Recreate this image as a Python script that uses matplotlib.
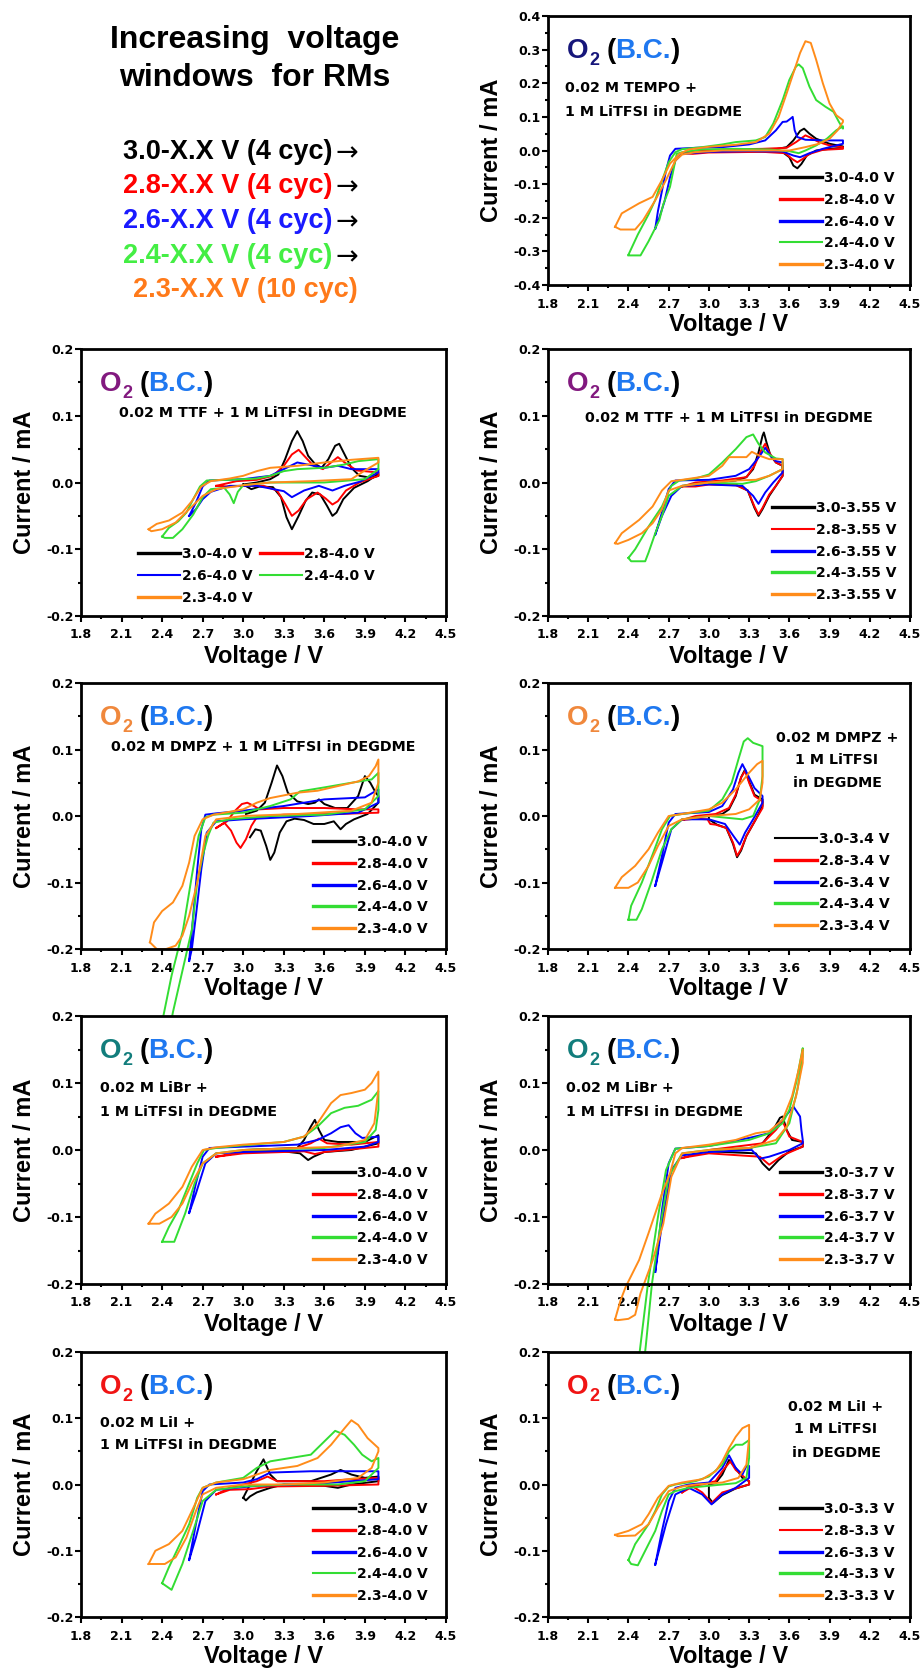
import matplotlib
matplotlib.use("Agg")
import matplotlib.pyplot as plt
from matplotlib.ticker import MultipleLocator, FormatStrFormatter

# ---------------------------------------------------------------------------
# Cyclic voltammograms, each loop given as (voltage / V, current / mA) vertices
# ---------------------------------------------------------------------------

# 0.02 M TEMPO, upper vertex 4.0 V
TEMPO_30 = [(3.00, 0.000), (3.30, 0.002), (3.50, 0.004), (3.58, 0.010), (3.63, 0.030), (3.68, 0.058), (3.71, 0.065),
            (3.75, 0.050), (3.80, 0.035), (3.90, 0.020), (4.00, 0.012), (4.00, 0.008), (3.90, 0.005), (3.80, 0.000),
            (3.73, -0.015), (3.69, -0.040), (3.66, -0.053), (3.63, -0.045), (3.60, -0.020), (3.55, -0.005),
            (3.40, -0.003), (3.00, -0.001), (3.00, 0.000)]
TEMPO_28 = [(2.80, -0.008), (2.90, 0.000), (3.10, 0.003), (3.40, 0.005), (3.58, 0.008), (3.65, 0.025), (3.72, 0.045),
            (3.76, 0.038), (3.82, 0.025), (3.90, 0.015), (4.00, 0.010), (4.00, 0.005), (3.85, 0.002), (3.75, -0.010),
            (3.70, -0.025), (3.66, -0.035), (3.62, -0.025), (3.57, -0.008), (3.40, -0.004), (3.00, -0.006),
            (2.88, -0.010), (2.80, -0.008)]
TEMPO_26 = [(2.60, -0.232), (2.62, -0.180), (2.65, -0.120), (2.68, -0.060), (2.71, -0.015), (2.75, 0.005),
            (2.90, 0.008), (3.10, 0.010), (3.30, 0.018), (3.42, 0.030), (3.50, 0.060), (3.55, 0.085), (3.58, 0.086),
            (3.61, 0.095), (3.625, 0.100), (3.64, 0.060), (3.66, 0.040), (3.72, 0.032), (3.85, 0.030), (4.00, 0.030),
            (4.00, 0.020), (3.85, 0.005), (3.75, -0.008), (3.68, -0.020), (3.63, -0.015), (3.55, -0.003),
            (3.30, -0.002), (3.00, -0.004), (2.80, -0.010), (2.75, -0.030), (2.71, -0.080), (2.67, -0.150),
            (2.63, -0.200), (2.60, -0.232)]
TEMPO_24 = [(2.40, -0.310), (2.47, -0.250), (2.55, -0.190), (2.60, -0.147), (2.65, -0.090), (2.70, -0.035),
            (2.75, -0.005), (2.80, 0.004), (2.95, 0.010), (3.10, 0.018), (3.20, 0.025), (3.35, 0.030), (3.42, 0.040),
            (3.48, 0.080), (3.55, 0.150), (3.60, 0.210), (3.65, 0.250), (3.67, 0.256), (3.70, 0.245), (3.75, 0.190),
            (3.80, 0.150), (3.87, 0.130), (3.93, 0.115), (3.97, 0.085), (4.00, 0.065), (4.00, 0.072), (3.95, 0.060),
            (3.88, 0.035), (3.80, 0.015), (3.72, 0.000), (3.67, -0.008), (3.60, -0.002), (3.45, 0.003),
            (3.20, 0.005), (2.95, 0.003), (2.80, -0.005), (2.76, -0.010), (2.71, -0.108), (2.66, -0.160),
            (2.63, -0.207), (2.55, -0.270), (2.49, -0.312), (2.40, -0.312)]
TEMPO_23 = [(2.30, -0.227), (2.35, -0.187), (2.48, -0.157), (2.58, -0.138), (2.65, -0.088), (2.71, -0.039),
            (2.78, -0.010), (2.85, 0.003), (3.00, 0.011), (3.20, 0.017), (3.35, 0.025), (3.45, 0.050), (3.52, 0.100),
            (3.58, 0.170), (3.63, 0.230), (3.68, 0.290), (3.72, 0.325), (3.76, 0.320), (3.80, 0.270), (3.85, 0.200),
            (3.90, 0.140), (3.95, 0.105), (4.00, 0.090), (4.00, 0.085), (3.96, 0.060), (3.90, 0.035), (3.82, 0.020),
            (3.72, 0.010), (3.60, 0.000), (3.40, 0.000), (3.10, 0.000), (2.90, -0.005), (2.80, -0.012),
            (2.75, -0.030), (2.68, -0.088), (2.60, -0.148), (2.51, -0.207), (2.45, -0.235), (2.34, -0.235),
            (2.30, -0.227)]

# 0.02 M TTF, upper vertex 4.0 V
TTF40_30 = [(3.00, -0.003), (3.10, 0.000), (3.20, 0.005), (3.26, 0.012), (3.31, 0.035), (3.36, 0.062), (3.40, 0.077),
            (3.44, 0.062), (3.48, 0.040), (3.53, 0.028), (3.58, 0.022), (3.63, 0.035), (3.68, 0.055), (3.71, 0.058),
            (3.75, 0.042), (3.80, 0.022), (3.86, 0.010), (3.95, 0.007), (4.00, 0.010), (4.00, 0.013), (3.92, 0.002),
            (3.82, -0.008), (3.74, -0.025), (3.69, -0.045), (3.66, -0.050), (3.62, -0.035), (3.57, -0.018),
            (3.51, -0.015), (3.46, -0.028), (3.41, -0.050), (3.36, -0.070), (3.32, -0.052), (3.28, -0.022),
            (3.22, -0.007), (3.12, -0.006), (3.06, -0.010), (3.00, -0.003)]
TTF40_28 = [(2.80, -0.005), (2.95, 0.002), (3.10, 0.004), (3.22, 0.010), (3.30, 0.025), (3.36, 0.042), (3.41, 0.049),
            (3.46, 0.038), (3.52, 0.025), (3.59, 0.020), (3.65, 0.030), (3.70, 0.038), (3.75, 0.030), (3.84, 0.018),
            (4.00, 0.015), (4.00, 0.010), (3.86, 0.000), (3.76, -0.012), (3.70, -0.028), (3.66, -0.033),
            (3.61, -0.024), (3.55, -0.015), (3.47, -0.025), (3.41, -0.042), (3.36, -0.050), (3.31, -0.032),
            (3.25, -0.012), (3.15, -0.005), (3.00, -0.005), (2.90, -0.006), (2.80, -0.005)]
TTF40_26 = [(2.60, -0.050), (2.65, -0.030), (2.70, -0.006), (2.75, 0.003), (3.00, 0.005), (3.20, 0.010), (3.30, 0.020),
            (3.40, 0.030), (3.50, 0.026), (3.60, 0.022), (3.70, 0.025), (3.80, 0.020), (4.00, 0.020), (4.00, 0.015),
            (3.86, 0.001), (3.75, -0.005), (3.66, -0.012), (3.56, -0.005), (3.45, -0.012), (3.36, -0.022),
            (3.30, -0.013), (3.10, -0.005), (2.90, -0.005), (2.76, -0.014), (2.70, -0.025), (2.65, -0.040),
            (2.60, -0.050)]
TTF40_24 = [(2.40, -0.081), (2.45, -0.068), (2.52, -0.058), (2.58, -0.045), (2.63, -0.025), (2.68, -0.006),
            (2.73, 0.003), (2.90, 0.004), (3.10, 0.006), (3.20, 0.010), (3.30, 0.017), (3.40, 0.020), (3.60, 0.022),
            (3.75, 0.027), (3.85, 0.032), (4.00, 0.035), (4.00, 0.020), (3.90, 0.005), (3.60, 0.000), (3.20, 0.000),
            (3.00, -0.004), (2.96, -0.014), (2.93, -0.031), (2.90, -0.018), (2.86, -0.008), (2.76, -0.010),
            (2.70, -0.022), (2.63, -0.048), (2.55, -0.070), (2.48, -0.083), (2.42, -0.083), (2.40, -0.081)]
TTF40_23 = [(2.30, -0.070), (2.36, -0.062), (2.45, -0.057), (2.55, -0.045), (2.62, -0.028), (2.69, -0.006),
            (2.76, 0.002), (2.90, 0.006), (3.00, 0.010), (3.10, 0.017), (3.20, 0.022), (3.40, 0.025), (3.60, 0.030),
            (3.80, 0.034), (4.00, 0.037), (4.00, 0.030), (3.90, 0.018), (3.80, 0.005), (3.50, 0.002), (3.20, 0.000),
            (3.00, -0.004), (2.80, -0.010), (2.70, -0.020), (2.60, -0.040), (2.50, -0.060), (2.40, -0.070),
            (2.32, -0.073), (2.30, -0.070)]

# 0.02 M TTF, upper vertex 3.55 V
TTF355_30 = [(3.00, 0.000), (3.20, 0.003), (3.28, 0.008), (3.33, 0.020), (3.37, 0.045), (3.40, 0.070), (3.41, 0.075),
             (3.43, 0.060), (3.46, 0.040), (3.50, 0.030), (3.55, 0.025), (3.55, 0.010), (3.50, -0.005),
             (3.45, -0.020), (3.40, -0.040), (3.37, -0.050), (3.34, -0.038), (3.29, -0.012), (3.20, -0.003),
             (3.00, -0.002), (3.00, 0.000)]
TTF355_28 = [(2.80, -0.006), (2.90, 0.000), (3.10, 0.003), (3.28, 0.008), (3.34, 0.025), (3.39, 0.048), (3.42, 0.058),
             (3.45, 0.045), (3.50, 0.030), (3.55, 0.025), (3.55, 0.010), (3.50, -0.005), (3.45, -0.018),
             (3.40, -0.038), (3.37, -0.048), (3.34, -0.036), (3.29, -0.012), (3.20, -0.004), (3.00, -0.003),
             (2.90, -0.006), (2.80, -0.006)]
TTF355_26 = [(2.60, -0.078), (2.65, -0.045), (2.70, -0.010), (2.75, 0.003), (3.00, 0.004), (3.20, 0.010), (3.30, 0.020),
             (3.38, 0.040), (3.42, 0.052), (3.46, 0.040), (3.50, 0.032), (3.55, 0.030), (3.55, 0.015), (3.48, 0.000),
             (3.42, -0.015), (3.37, -0.032), (3.33, -0.020), (3.25, -0.005), (3.00, -0.003), (2.80, -0.005),
             (2.72, -0.020), (2.65, -0.050), (2.60, -0.078)]
TTF355_24 = [(2.40, -0.113), (2.45, -0.100), (2.55, -0.066), (2.65, -0.036), (2.72, -0.005), (2.78, 0.003),
             (2.90, 0.006), (3.00, 0.012), (3.10, 0.030), (3.20, 0.050), (3.28, 0.068), (3.33, 0.072), (3.37, 0.058),
             (3.42, 0.045), (3.50, 0.036), (3.55, 0.035), (3.55, 0.020), (3.45, 0.010), (3.35, 0.002),
             (3.25, -0.002), (3.00, 0.000), (2.80, -0.005), (2.70, -0.020), (2.65, -0.050), (2.60, -0.076),
             (2.55, -0.105), (2.525, -0.118), (2.42, -0.118), (2.40, -0.113)]
TTF355_23 = [(2.30, -0.091), (2.35, -0.076), (2.48, -0.056), (2.58, -0.036), (2.65, -0.012), (2.72, 0.002),
             (2.80, 0.004), (3.00, 0.010), (3.10, 0.025), (3.15, 0.038), (3.28, 0.038), (3.32, 0.046), (3.38, 0.040),
             (3.45, 0.035), (3.55, 0.035), (3.55, 0.020), (3.45, 0.010), (3.35, 0.004), (3.20, 0.003), (3.00, 0.000),
             (2.80, -0.005), (2.70, -0.012), (2.65, -0.040), (2.58, -0.061), (2.50, -0.076), (2.40, -0.086),
             (2.32, -0.092), (2.30, -0.091)]

# 0.02 M DMPZ, upper vertex 4.0 V
DMPZ40_30 = [(3.02, 0.003), (3.10, 0.008), (3.16, 0.020), (3.21, 0.050), (3.25, 0.076), (3.29, 0.060), (3.33, 0.035),
             (3.40, 0.022), (3.48, 0.018), (3.53, 0.020), (3.56, 0.025), (3.60, 0.018), (3.68, 0.012), (3.77, 0.012),
             (3.85, 0.030), (3.90, 0.060), (3.94, 0.050), (3.98, 0.035), (4.00, 0.030), (4.00, 0.020), (3.92, 0.003),
             (3.82, -0.005), (3.76, -0.012), (3.72, -0.020), (3.67, -0.008), (3.60, -0.012), (3.52, -0.012),
             (3.45, -0.006), (3.38, -0.004), (3.32, -0.008), (3.27, -0.025), (3.23, -0.055), (3.20, -0.066),
             (3.17, -0.045), (3.13, -0.022), (3.09, -0.020), (3.05, -0.032)]
DMPZ40_28 = [(2.80, -0.018), (2.88, -0.008), (2.94, 0.008), (2.99, 0.018), (3.03, 0.020), (3.08, 0.015), (3.12, 0.010),
             (3.30, 0.012), (3.60, 0.012), (3.85, 0.010), (4.00, 0.010), (4.00, 0.005), (3.70, 0.003), (3.30, 0.002),
             (3.10, -0.002), (3.06, -0.015), (3.02, -0.035), (2.98, -0.048), (2.95, -0.040), (2.91, -0.022),
             (2.86, -0.010), (2.80, -0.018)]
DMPZ40_26 = [(2.60, -0.218), (2.63, -0.150), (2.66, -0.080), (2.69, -0.020), (2.72, 0.002), (2.80, 0.004), (3.00, 0.008),
             (3.30, 0.015), (3.60, 0.025), (3.90, 0.028), (4.00, 0.040), (4.00, 0.020), (3.85, 0.005), (3.50, 0.000),
             (3.00, -0.005), (2.80, -0.008), (2.73, -0.025), (2.69, -0.080), (2.65, -0.150), (2.62, -0.200),
             (2.60, -0.218)]
DMPZ40_24 = [(2.40, -0.310), (2.47, -0.240), (2.555, -0.171), (2.62, -0.090), (2.67, -0.030), (2.72, -0.002),
             (2.78, 0.002), (3.00, 0.005), (3.20, 0.015), (3.35, 0.025), (3.42, 0.037), (3.60, 0.043), (3.80, 0.050),
             (3.95, 0.055), (4.00, 0.065), (4.00, 0.030), (3.90, 0.010), (3.60, 0.002), (3.20, 0.000), (2.90, -0.005),
             (2.78, -0.010), (2.74, -0.030), (2.70, -0.060), (2.66, -0.100), (2.62, -0.171), (2.55, -0.233),
             (2.48, -0.295), (2.41, -0.370), (2.40, -0.370), (2.40, -0.310)]
DMPZ40_23 = [(2.31, -0.190), (2.34, -0.160), (2.40, -0.143), (2.48, -0.130), (2.55, -0.105), (2.60, -0.070),
             (2.64, -0.030), (2.70, -0.005), (2.78, 0.002), (3.00, 0.010), (3.10, 0.020), (3.20, 0.027), (3.40, 0.035),
             (3.55, 0.038), (3.70, 0.045), (3.85, 0.052), (3.93, 0.060), (3.98, 0.075), (4.00, 0.085), (4.00, 0.050),
             (3.95, 0.020), (3.80, 0.008), (3.40, 0.003), (3.00, 0.000), (2.80, -0.005), (2.72, -0.030),
             (2.66, -0.100), (2.60, -0.150), (2.55, -0.180), (2.50, -0.195), (2.43, -0.200), (2.36, -0.200),
             (2.31, -0.190)]

# 0.02 M DMPZ, upper vertex 3.4 V
DMPZ34_30 = [(3.00, 0.000), (3.10, 0.003), (3.15, 0.010), (3.20, 0.030), (3.24, 0.058), (3.27, 0.070), (3.30, 0.052),
             (3.34, 0.032), (3.40, 0.025), (3.40, 0.015), (3.35, -0.005), (3.28, -0.030), (3.24, -0.052),
             (3.21, -0.062), (3.18, -0.042), (3.13, -0.018), (3.06, -0.013), (3.00, -0.005), (3.00, 0.000)]
DMPZ34_28 = [(2.80, -0.006), (2.90, 0.000), (3.05, 0.003), (3.15, 0.012), (3.20, 0.032), (3.24, 0.058), (3.27, 0.068),
             (3.30, 0.050), (3.34, 0.030), (3.40, 0.022), (3.40, 0.012), (3.35, -0.005), (3.28, -0.030),
             (3.24, -0.050), (3.21, -0.060), (3.18, -0.040), (3.13, -0.018), (3.05, -0.013), (3.01, -0.012),
             (2.99, -0.005), (2.90, -0.004), (2.80, -0.006)]
DMPZ34_26 = [(2.60, -0.105), (2.65, -0.060), (2.70, -0.010), (2.75, 0.003), (3.00, 0.006), (3.10, 0.015), (3.18, 0.040),
             (3.22, 0.065), (3.25, 0.078), (3.29, 0.062), (3.34, 0.042), (3.40, 0.030), (3.40, 0.020), (3.33, -0.005),
             (3.27, -0.025), (3.23, -0.043), (3.19, -0.032), (3.12, -0.012), (3.00, -0.005), (2.80, -0.005),
             (2.72, -0.020), (2.65, -0.070), (2.60, -0.105)]
DMPZ34_24 = [(2.40, -0.156), (2.42, -0.135), (2.50, -0.100), (2.58, -0.058), (2.65, -0.020), (2.71, 0.000),
             (2.80, 0.003), (3.00, 0.008), (3.10, 0.025), (3.17, 0.050), (3.22, 0.085), (3.26, 0.112), (3.29, 0.117),
             (3.33, 0.110), (3.40, 0.105), (3.40, 0.060), (3.38, 0.025), (3.33, 0.000), (3.25, -0.005),
             (3.10, -0.002), (3.00, 0.000), (2.80, -0.005), (2.72, -0.020), (2.65, -0.050), (2.57, -0.100),
             (2.50, -0.140), (2.46, -0.156), (2.40, -0.156)]
DMPZ34_23 = [(2.30, -0.108), (2.35, -0.092), (2.45, -0.075), (2.55, -0.050), (2.62, -0.025), (2.70, 0.000),
             (2.80, 0.003), (3.00, 0.010), (3.10, 0.020), (3.20, 0.040), (3.30, 0.065), (3.36, 0.078), (3.40, 0.083),
             (3.40, 0.050), (3.38, 0.025), (3.30, 0.010), (3.20, 0.003), (3.00, 0.000), (2.80, -0.005),
             (2.70, -0.015), (2.62, -0.045), (2.55, -0.075), (2.47, -0.100), (2.40, -0.108), (2.32, -0.108),
             (2.30, -0.108)]

# 0.02 M LiBr, upper vertex 4.0 V
LIBR40_30 = [(3.00, 0.000), (3.40, 0.003), (3.45, 0.015), (3.50, 0.035), (3.53, 0.045), (3.56, 0.030), (3.60, 0.015),
             (3.70, 0.012), (3.90, 0.012), (4.00, 0.022), (4.00, 0.010), (3.80, 0.000), (3.60, -0.003),
             (3.52, -0.010), (3.48, -0.015), (3.42, -0.005), (3.30, -0.002), (3.00, 0.000)]
LIBR40_28 = [(2.80, -0.010), (3.00, -0.003), (3.40, 0.003), (3.50, 0.010), (3.56, 0.017), (3.62, 0.010), (3.80, 0.008),
             (4.00, 0.012), (4.00, 0.005), (3.60, -0.003), (3.53, -0.006), (3.45, -0.002), (3.00, -0.005),
             (2.80, -0.010)]
LIBR40_26 = [(2.60, -0.094), (2.65, -0.050), (2.70, -0.010), (2.75, 0.003), (3.00, 0.005), (3.40, 0.008), (3.55, 0.015),
             (3.65, 0.025), (3.72, 0.034), (3.78, 0.037), (3.83, 0.025), (3.88, 0.018), (4.00, 0.020), (4.00, 0.012),
             (3.90, 0.005), (3.60, 0.000), (3.00, -0.003), (2.80, -0.005), (2.72, -0.020), (2.65, -0.065),
             (2.60, -0.094)]
LIBR40_24 = [(2.40, -0.137), (2.45, -0.115), (2.52, -0.090), (2.60, -0.050), (2.66, -0.020), (2.71, 0.000),
             (2.80, 0.003), (3.00, 0.007), (3.30, 0.012), (3.45, 0.020), (3.55, 0.035), (3.65, 0.055), (3.75, 0.063),
             (3.85, 0.066), (3.95, 0.075), (4.00, 0.088), (4.00, 0.060), (3.98, 0.030), (3.90, 0.012), (3.60, 0.003),
             (3.00, 0.000), (2.80, -0.005), (2.70, -0.020), (2.64, -0.050), (2.57, -0.095), (2.49, -0.137),
             (2.40, -0.137)]
LIBR40_23 = [(2.30, -0.110), (2.35, -0.095), (2.45, -0.080), (2.55, -0.055), (2.62, -0.025), (2.70, 0.000),
             (2.80, 0.004), (3.00, 0.008), (3.30, 0.012), (3.45, 0.020), (3.55, 0.040), (3.65, 0.070), (3.72, 0.082),
             (3.80, 0.085), (3.90, 0.090), (3.95, 0.100), (4.00, 0.117), (4.00, 0.090), (3.97, 0.040), (3.90, 0.015),
             (3.70, 0.005), (3.00, 0.000), (2.80, -0.005), (2.70, -0.020), (2.62, -0.050), (2.55, -0.080),
             (2.47, -0.100), (2.38, -0.110), (2.30, -0.110)]

# 0.02 M LiBr, upper vertex 3.7 V
LIBR37_30 = [(3.00, 0.000), (3.30, 0.002), (3.40, 0.010), (3.48, 0.030), (3.53, 0.048), (3.55, 0.050), (3.58, 0.030),
             (3.62, 0.015), (3.70, 0.012), (3.70, 0.005), (3.60, -0.002), (3.52, -0.015), (3.45, -0.030),
             (3.40, -0.020), (3.35, -0.005), (3.00, -0.002), (3.00, 0.000)]
LIBR37_28 = [(2.80, -0.012), (3.00, 0.000), (3.40, 0.010), (3.50, 0.030), (3.55, 0.043), (3.60, 0.020), (3.70, 0.012),
             (3.70, 0.005), (3.55, -0.008), (3.45, -0.022), (3.38, -0.010), (3.00, -0.005), (2.85, -0.010),
             (2.80, -0.012)]
LIBR37_26 = [(2.60, -0.182), (2.65, -0.090), (2.70, -0.020), (2.75, 0.002), (3.00, 0.006), (3.30, 0.018), (3.45, 0.025),
             (3.55, 0.045), (3.63, 0.065), (3.68, 0.050), (3.69, 0.030), (3.70, 0.015), (3.70, 0.010), (3.60, 0.000),
             (3.45, -0.010), (3.38, -0.013), (3.32, 0.000), (3.00, -0.003), (2.80, -0.008), (2.72, -0.030),
             (2.65, -0.110), (2.60, -0.182)]
LIBR37_24 = [(2.40, -0.440), (2.49, -0.291), (2.545, -0.200), (2.62, -0.100), (2.68, -0.030), (2.75, 0.002),
             (3.00, 0.006), (3.30, 0.015), (3.45, 0.025), (3.55, 0.040), (3.60, 0.060), (3.65, 0.100), (3.70, 0.152),
             (3.70, 0.140), (3.66, 0.090), (3.60, 0.040), (3.50, 0.010), (3.30, 0.003), (3.00, 0.000), (2.80, -0.005),
             (2.70, -0.040), (2.64, -0.110), (2.575, -0.200), (2.53, -0.291), (2.45, -0.440), (2.40, -0.440)]
LIBR37_23 = [(2.30, -0.253), (2.34, -0.225), (2.38, -0.204), (2.48, -0.164), (2.55, -0.124), (2.65, -0.065),
             (2.71, -0.035), (2.75, -0.005), (2.80, 0.003), (3.00, 0.008), (3.20, 0.015), (3.35, 0.025), (3.45, 0.028),
             (3.55, 0.045), (3.62, 0.080), (3.67, 0.120), (3.70, 0.150), (3.70, 0.130), (3.65, 0.080), (3.58, 0.035),
             (3.50, 0.015), (3.30, 0.003), (3.00, 0.000), (2.80, -0.005), (2.72, -0.040), (2.66, -0.110),
             (2.58, -0.165), (2.49, -0.214), (2.45, -0.246), (2.40, -0.252), (2.32, -0.254), (2.30, -0.253)]

# 0.02 M LiI, upper vertex 4.0 V
LII40_30 = [(3.00, -0.020), (3.05, 0.000), (3.10, 0.020), (3.15, 0.038), (3.20, 0.015), (3.25, 0.005), (3.50, 0.005),
            (3.65, 0.015), (3.72, 0.022), (3.80, 0.015), (3.90, 0.010), (4.00, 0.012), (4.00, 0.005), (3.80, 0.000),
            (3.70, -0.005), (3.60, -0.002), (3.30, 0.000), (3.20, -0.005), (3.10, -0.012), (3.05, -0.018),
            (3.02, -0.024), (3.00, -0.020)]
LII40_28 = [(2.80, -0.015), (2.90, -0.005), (3.00, 0.000), (3.10, 0.005), (3.18, 0.012), (3.25, 0.005), (3.60, 0.005),
            (3.80, 0.008), (4.00, 0.010), (4.00, 0.000), (3.60, -0.002), (3.20, -0.003), (3.05, -0.007),
            (2.90, -0.008), (2.80, -0.015)]
LII40_26 = [(2.60, -0.114), (2.65, -0.060), (2.70, -0.010), (2.75, 0.000), (3.00, 0.003), (3.10, 0.008), (3.20, 0.018),
            (3.50, 0.020), (4.00, 0.020), (4.00, 0.008), (3.60, 0.002), (3.10, -0.002), (2.80, -0.008),
            (2.72, -0.025), (2.65, -0.080), (2.60, -0.114)]
LII40_24 = [(2.40, -0.149), (2.45, -0.125), (2.52, -0.095), (2.60, -0.060), (2.66, -0.020), (2.70, -0.005),
            (2.80, 0.003), (3.00, 0.010), (3.10, 0.025), (3.20, 0.035), (3.35, 0.040), (3.50, 0.045), (3.60, 0.065),
            (3.68, 0.081), (3.75, 0.075), (3.82, 0.060), (3.88, 0.045), (3.95, 0.035), (4.00, 0.040), (4.00, 0.025),
            (3.90, 0.005), (3.70, 0.000), (3.30, 0.000), (3.00, -0.003), (2.80, -0.008), (2.70, -0.025),
            (2.63, -0.070), (2.55, -0.120), (2.47, -0.159), (2.40, -0.149)]
LII40_23 = [(2.30, -0.120), (2.35, -0.100), (2.45, -0.090), (2.55, -0.070), (2.62, -0.040), (2.70, -0.005),
            (2.80, 0.003), (3.00, 0.008), (3.10, 0.015), (3.20, 0.022), (3.40, 0.028), (3.55, 0.040), (3.65, 0.060),
            (3.75, 0.085), (3.80, 0.097), (3.85, 0.090), (3.92, 0.070), (4.00, 0.055), (4.00, 0.050), (3.95, 0.025),
            (3.85, 0.010), (3.60, 0.003), (3.30, 0.000), (3.00, 0.000), (2.80, -0.005), (2.70, -0.015),
            (2.65, -0.040), (2.58, -0.080), (2.50, -0.110), (2.42, -0.120), (2.32, -0.120), (2.30, -0.120)]

# 0.02 M LiI, upper vertex 3.3 V
LII33_30 = [(3.00, 0.000), (3.05, 0.002), (3.10, 0.015), (3.15, 0.037), (3.20, 0.025), (3.25, 0.010), (3.30, 0.005),
            (3.30, 0.000), (3.20, -0.006), (3.10, -0.016), (3.03, -0.028), (3.00, -0.020), (3.00, 0.000)]
LII33_28 = [(2.80, -0.012), (2.85, -0.003), (2.95, 0.000), (3.05, 0.005), (3.10, 0.020), (3.16, 0.035), (3.20, 0.022),
            (3.30, 0.005), (3.30, 0.000), (3.10, -0.012), (3.02, -0.028), (2.95, -0.012), (2.88, -0.003),
            (2.80, -0.012)]
LII33_26 = [(2.60, -0.121), (2.65, -0.070), (2.70, -0.025), (2.75, -0.005), (2.85, 0.000), (3.00, 0.003), (3.10, 0.025),
            (3.15, 0.044), (3.20, 0.025), (3.25, 0.015), (3.28, 0.028), (3.30, 0.028), (3.30, 0.010), (3.20, -0.005),
            (3.10, -0.015), (3.02, -0.030), (2.95, -0.015), (2.85, -0.005), (2.75, -0.015), (2.68, -0.060),
            (2.60, -0.121)]
LII33_24 = [(2.40, -0.114), (2.45, -0.090), (2.50, -0.075), (2.55, -0.060), (2.60, -0.040), (2.65, -0.015),
            (2.70, -0.003), (2.75, 0.000), (2.90, 0.005), (3.00, 0.012), (3.10, 0.030), (3.15, 0.050), (3.20, 0.060),
            (3.25, 0.060), (3.30, 0.067), (3.30, 0.040), (3.28, 0.010), (3.20, 0.002), (3.00, -0.002),
            (2.85, -0.005), (2.75, -0.010), (2.70, -0.015), (2.65, -0.040), (2.60, -0.070), (2.55, -0.090),
            (2.47, -0.122), (2.42, -0.120), (2.40, -0.114)]
LII33_23 = [(2.30, -0.076), (2.40, -0.070), (2.50, -0.060), (2.55, -0.045), (2.62, -0.020), (2.70, -0.002),
            (2.80, 0.003), (2.95, 0.008), (3.05, 0.020), (3.10, 0.035), (3.15, 0.055), (3.20, 0.072), (3.25, 0.085),
            (3.30, 0.090), (3.30, 0.070), (3.28, 0.030), (3.22, 0.010), (3.10, 0.003), (2.90, 0.000), (2.80, -0.003),
            (2.70, -0.010), (2.62, -0.035), (2.55, -0.060), (2.45, -0.077), (2.32, -0.078), (2.30, -0.076)]

LOWER_LIMITS = ["3.0", "2.8", "2.6", "2.4", "2.3"]
CURVE_COLORS = ["#000000", "#ff0000", "#0000ff", "#33dd33", "#ff8c1a"]
SCHEME_LINES = ["3.0-X.X V (4 cyc)", "2.8-X.X V (4 cyc)", "2.6-X.X V (4 cyc)",
                "2.4-X.X V (4 cyc)", "2.3-X.X V (10 cyc)"]
SCHEME_COLORS = ["#000000", "#ff0000", "#1a1aff", "#44ee44", "#ff7a1a"]
X_TICKS = [1.8, 2.1, 2.4, 2.7, 3.0, 3.3, 3.6, 3.9, 4.2, 4.5]

# ---------------------------------------------------------------------------
plt.rcParams["axes.unicode_minus"] = False
plt.rcParams["font.family"] = "DejaVu Sans"
plt.rcParams["font.weight"] = "bold"

FW, FH = 924, 1671
fig = plt.figure(figsize=(FW / 100, FH / 100), dpi=100)
fig.patch.set_facecolor("white")

BIG = "Liberation Sans"
BC_BLUE = "#1f78f0"


def fx(px):
    return px / FW


def fy(py):
    return 1 - py / FH


def o2_label(ax, x_px, y_px, color):
    t = fig.text(fx(x_px), fy(y_px), "O", color=color, fontsize=20, family=BIG,
                 weight="bold", ha="left", va="baseline")
    sub = ax.annotate("2", xy=(1, 0), xycoords=t, xytext=(0.5, -3.5), textcoords="offset points",
                      color=color, fontsize=13, family=BIG, weight="bold", ha="left", va="bottom",
                      annotation_clip=False)
    p1 = ax.annotate("(", xy=(1, 0), xycoords=(sub, t), xytext=(5, 0), textcoords="offset points",
                     color="black", fontsize=20, family=BIG, weight="bold", ha="left", va="bottom",
                     annotation_clip=False)
    bc = ax.annotate("B.C.", xy=(1, 0), xycoords=p1, color=BC_BLUE, fontsize=20, family=BIG,
                     weight="bold", ha="left", va="bottom", annotation_clip=False)
    ax.annotate(")", xy=(1, 0), xycoords=bc, color="black", fontsize=20, family=BIG,
                weight="bold", ha="left", va="bottom", annotation_clip=False)


def make_panel(box, ylim, curves, upper, o2_color, descs, leg):
    l, t, r, b = box
    ax = fig.add_axes([fx(l), fy(b), (r - l) / FW, (b - t) / FH])
    ax.set_facecolor("white")
    lines = []
    for pts, col in zip(curves, CURVE_COLORS):
        v = [p[0] for p in pts]
        i = [p[1] for p in pts]
        ln, = ax.plot(v, i, color=col, lw=1.4, clip_on=False, solid_joinstyle="round")
        lines.append(ln)
    ax.set_xlim(1.8, 4.5)
    ax.set_ylim(*ylim)
    ax.set_xticks(X_TICKS)
    ax.xaxis.set_minor_locator(MultipleLocator(0.15))
    ax.yaxis.set_major_locator(MultipleLocator(0.1))
    ax.yaxis.set_minor_locator(MultipleLocator(0.05))
    ax.xaxis.set_major_formatter(FormatStrFormatter("%.1f"))
    ax.yaxis.set_major_formatter(FormatStrFormatter("%.1f"))
    ax.tick_params(which="both", direction="out", top=False, right=False, width=1.5)
    ax.tick_params(which="major", length=4)
    ax.tick_params(which="minor", length=2.5)
    ax.tick_params(axis="x", pad=5, labelsize=9)
    ax.tick_params(axis="y", pad=1.5, labelsize=9)
    for sp in ax.spines.values():
        sp.set_linewidth(2.0)

    # axis titles
    xc = (l + r) / 2
    fig.text(fx(xc), fy(b + 40), "Voltage / V", fontsize=17, family=BIG, weight="bold",
             ha="center", va="center")
    fig.text(fx(l - 56), fy((t + b) / 2), "Current / mA", fontsize=17, family=BIG, weight="bold",
             ha="center", va="center", rotation=90)

    o2_label(ax, l + 19, t + 42, o2_color)

    for text, x_px, y_px, ha in descs:
        fig.text(fx(x_px), fy(y_px), text, fontsize=10.3, ha=ha, va="center", weight="bold")

    x_px, y_px, ncol, order, widths = leg
    labels = [f"{lo}-{upper} V" for lo in LOWER_LIMITS]
    handles = [lines[k] for k in order]
    labs = [labels[k] for k in order]
    lg = ax.legend(handles, labs, loc="upper left", bbox_to_anchor=(fx(x_px), fy(y_px - 8)),
                   bbox_transform=fig.transFigure, frameon=False, ncol=ncol, handlelength=3.0,
                   handletextpad=0.15, labelspacing=0.56, borderpad=0, borderaxespad=0,
                   columnspacing=0.55, prop=dict(family="DejaVu Sans", weight="bold", size=10))
    for hl, k in zip(lg.get_lines(), order):
        hl.set_linewidth(widths[k])
    return ax


LEFT_BOX = (81, 446)
RIGHT_BOX = (548, 910)
ROWS = [(16, 285), (349, 616), (683, 949), (1016, 1284), (1352, 1617)]
THICK = [2.4, 2.4, 2.4, 2.4, 2.4]

# --- left-hand scheme text (drawn in an invisible axes) ---
scheme_ax = fig.add_axes([0, fy(320), 0.5, 320 / FH])
scheme_ax.axis("off")
fig.text(fx(255), fy(40), "Increasing  voltage", fontsize=23, family=BIG, weight="bold",
         ha="center", va="center")
fig.text(fx(255), fy(78), "windows  for RMs", fontsize=23, family=BIG, weight="bold",
         ha="center", va="center")
scheme_y = [152, 186, 221, 256, 290]
for k, (txt, col, yy) in enumerate(zip(SCHEME_LINES, SCHEME_COLORS, scheme_y)):
    x0 = 123 if k < 4 else 133
    st = fig.text(fx(x0), fy(yy), txt, fontsize=19.5, family=BIG, weight="bold", color=col,
                  ha="left", va="center")
    if k < 4:
        scheme_ax.annotate("\u2192", xy=(1, 0), xycoords=st, xytext=(2, -1), textcoords="offset points",
                           fontsize=19.5, family="DejaVu Sans", weight="normal", color="black",
                           ha="left", va="bottom", annotation_clip=False)

# TEMPO 4.0 V
make_panel((RIGHT_BOX[0], ROWS[0][0], RIGHT_BOX[1], ROWS[0][1]), (-0.4, 0.4),
           [TEMPO_30, TEMPO_28, TEMPO_26, TEMPO_24, TEMPO_23], "4.0", "#16167a",
           [("0.02 M TEMPO +", 565, 88, "left"), ("1 M LiTFSI in DEGDME", 565, 112, "left")],
           (780, 179, 1, [0, 1, 2, 3, 4], [2.4, 2.4, 2.4, 1.5, 2.4]))
# TTF 4.0 V
make_panel((LEFT_BOX[0], ROWS[1][0], LEFT_BOX[1], ROWS[1][1]), (-0.2, 0.2),
           [TTF40_30, TTF40_28, TTF40_26, TTF40_24, TTF40_23], "4.0", "#82197f",
           [("0.02 M TTF + 1 M LiTFSI in DEGDME", 263, 413, "center")],
           (138, 555, 2, [0, 2, 4, 1, 3], [2.4, 2.4, 1.5, 1.5, 2.4]))
# TTF 3.55 V
make_panel((RIGHT_BOX[0], ROWS[1][0], RIGHT_BOX[1], ROWS[1][1]), (-0.2, 0.2),
           [TTF355_30, TTF355_28, TTF355_26, TTF355_24, TTF355_23], "3.55", "#82197f",
           [("0.02 M TTF + 1 M LiTFSI in DEGDME", 729, 418, "center")],
           (772, 509, 1, [0, 1, 2, 3, 4], [2.4, 1.5, 2.4, 2.4, 2.4]))
# DMPZ 4.0 V
make_panel((LEFT_BOX[0], ROWS[2][0], LEFT_BOX[1], ROWS[2][1]), (-0.2, 0.2),
           [DMPZ40_30, DMPZ40_28, DMPZ40_26, DMPZ40_24, DMPZ40_23], "4.0", "#f0883c",
           [("0.02 M DMPZ + 1 M LiTFSI in DEGDME", 263, 747, "center")],
           (313, 843, 1, [0, 1, 2, 3, 4], THICK))
# DMPZ 3.4 V
make_panel((RIGHT_BOX[0], ROWS[2][0], RIGHT_BOX[1], ROWS[2][1]), (-0.2, 0.2),
           [DMPZ34_30, DMPZ34_28, DMPZ34_26, DMPZ34_24, DMPZ34_23], "3.4", "#f0883c",
           [("0.02 M DMPZ +", 837, 738, "center"), ("1 M LiTFSI", 837, 760, "center"),
            ("in DEGDME", 837, 783, "center")],
           (775, 840, 1, [0, 1, 2, 3, 4], [1.5, 2.4, 2.4, 2.4, 2.4]))
# LiBr 4.0 V
make_panel((LEFT_BOX[0], ROWS[3][0], LEFT_BOX[1], ROWS[3][1]), (-0.2, 0.2),
           [LIBR40_30, LIBR40_28, LIBR40_26, LIBR40_24, LIBR40_23], "4.0", "#127d7c",
           [("0.02 M LiBr +", 100, 1088, "left"), ("1 M LiTFSI in DEGDME", 100, 1112, "left")],
           (313, 1174, 1, [0, 1, 2, 3, 4], THICK))
# LiBr 3.7 V
make_panel((RIGHT_BOX[0], ROWS[3][0], RIGHT_BOX[1], ROWS[3][1]), (-0.2, 0.2),
           [LIBR37_30, LIBR37_28, LIBR37_26, LIBR37_24, LIBR37_23], "3.7", "#127d7c",
           [("0.02 M LiBr +", 566, 1088, "left"), ("1 M LiTFSI in DEGDME", 566, 1112, "left")],
           (780, 1174, 1, [0, 1, 2, 3, 4], THICK))
# LiI 4.0 V
make_panel((LEFT_BOX[0], ROWS[4][0], LEFT_BOX[1], ROWS[4][1]), (-0.2, 0.2),
           [LII40_30, LII40_28, LII40_26, LII40_24, LII40_23], "4.0", "#f01414",
           [("0.02 M LiI +", 100, 1423, "left"), ("1 M LiTFSI in DEGDME", 100, 1445, "left")],
           (313, 1510, 1, [0, 1, 2, 3, 4], [2.4, 2.4, 2.4, 1.5, 2.4]))
# LiI 3.3 V
make_panel((RIGHT_BOX[0], ROWS[4][0], RIGHT_BOX[1], ROWS[4][1]), (-0.2, 0.2),
           [LII33_30, LII33_28, LII33_26, LII33_24, LII33_23], "3.3", "#f01414",
           [("0.02 M LiI +", 836, 1407, "center"), ("1 M LiTFSI", 836, 1429, "center"),
            ("in DEGDME", 836, 1453, "center")],
           (780, 1510, 1, [0, 1, 2, 3, 4], [2.4, 1.5, 2.4, 2.4, 2.4]))

fig.savefig("out.png", dpi=100, facecolor="white")
